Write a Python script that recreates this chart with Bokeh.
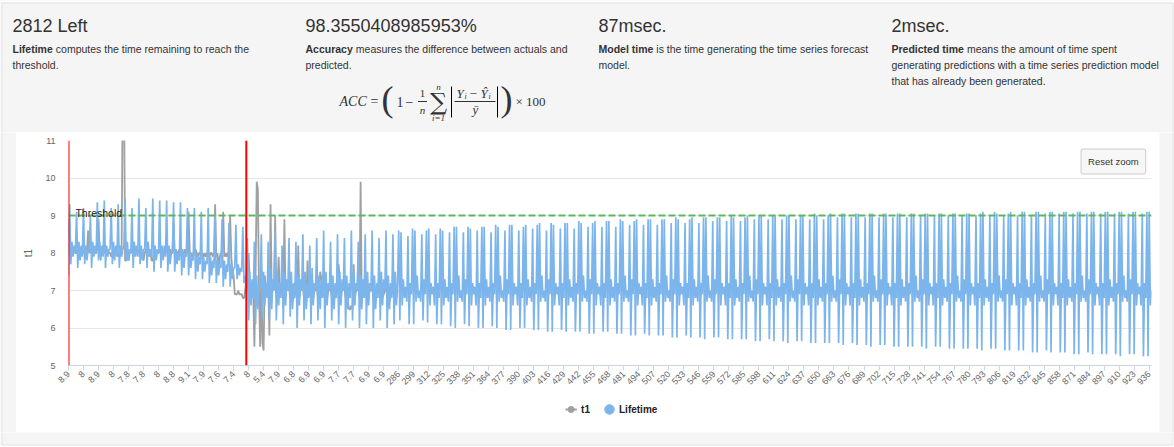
import math
from bokeh.plotting import figure
from bokeh.models import Range1d, Label, Span, FixedTicker
from bokeh.layouts import column, row
from bokeh.embed import file_html
from bokeh.resources import INLINE

# ---------------- data ----------------
headings = ["2812 Left", "98.3550408985953%", "87msec.", "2msec."]
bold_terms = ["Lifetime", "Accuracy", "Model time", "Predicted time"]
first_lines = ["computes the time remaining to reach the",
               "measures the difference between actuals and",
               "is the time generating the time series forecast",
               "means the amount of time spent"]
more_lines = [["threshold."], ["predicted."], ["model."],
              ["generating predictions with a time series prediction model",
               "that has already been generated."]]

# t1 actual values (categories 0..285)
t1_actual = [
    8.9, 8.0, 8.1, 8.0, 8.0, 8.1, 8.0, 8.0, 8.2, 8.0, 8.1, 8.0, 8.0,
    8.0, 8.1, 8.0, 8.0, 8.6, 8.0, 8.1, 8.0, 8.0, 8.1, 8.0, 8.0, 8.1,
    8.9, 8.0, 8.1, 8.0, 8.0, 8.1, 8.0, 8.0, 8.1, 8.0, 8.0, 7.9, 8.0,
    8.0, 8.1, 8.0, 8.0, 7.9, 8.0, 8.1, 8.0, 12.6, 12.9, 7.8, 7.8, 7.9,
    7.8, 8.0, 8.1, 8.0, 8.0, 8.1, 8.0, 8.0, 8.1, 8.0, 7.9, 8.0, 8.0,
    7.8, 8.0, 8.1, 8.0, 8.0, 8.1, 8.0, 7.8, 7.8, 8.0, 8.1, 8.0, 8.0,
    8.0, 8.1, 8.0, 8.0, 8.1, 8.0, 8.0, 8.1, 8.0, 8.0, 8.1, 8.0, 8.0,
    8.8, 8.0, 8.1, 8.0, 8.0, 8.1, 8.0, 7.9, 8.0, 8.0, 8.1, 8.0, 8.0,
    9.1, 8.0, 8.0, 7.9, 8.0, 8.0, 8.1, 8.0, 7.9, 8.0, 8.0, 7.9, 8.0,
    7.9, 8.0, 7.9, 8.0, 8.0, 7.9, 8.0, 8.0, 7.9, 8.0, 9.3, 7.9, 8.0,
    7.6, 7.9, 8.0, 7.9, 9.1, 7.9, 8.0, 7.9, 8.0, 8.0, 9.0, 7.9, 7.5,
    7.4, 6.9, 6.9, 6.9, 7.0, 6.9, 6.9, 6.9, 6.8, 6.8, 7.0, 7.3, 7.1,
    8.0, 7.2, 6.8, 7.1, 6.9, 5.5, 7.3, 9.9, 9.7, 7.0, 5.5, 7.6, 5.6,
    5.4, 7.4, 7.0, 6.9, 7.2, 5.8, 9.3, 7.0, 7.1, 7.0, 9.0, 6.8, 7.1,
    7.9, 7.0, 6.9, 7.1, 6.8, 8.9, 6.8, 7.1, 7.0, 7.1, 6.8, 7.2, 6.7,
    6.8, 6.9, 7.1, 6.8, 8.2, 6.8, 7.1, 7.0, 7.1, 6.8, 7.2, 6.7, 7.8,
    6.9, 7.1, 6.8, 7.3, 6.8, 7.0, 7.0, 7.1, 6.8, 7.1, 7.5, 7.3, 6.9,
    6.9, 6.8, 7.2, 6.8, 7.0, 7.0, 7.1, 6.8, 7.1, 6.7, 7.0, 6.9, 7.1,
    7.7, 7.2, 6.8, 7.1, 7.0, 7.1, 6.8, 7.1, 6.7, 6.5, 6.5, 6.6, 6.5,
    7.7, 6.8, 7.0, 7.0, 7.1, 6.8, 9.9, 6.7, 7.1, 6.9, 7.1, 6.8, 7.2,
    6.9, 7.0, 7.0, 7.1, 6.8, 7.1, 6.7, 7.0, 6.9, 7.1, 6.8, 7.2, 6.8,
    6.9, 7.0, 7.1, 6.8, 7.1, 6.7, 7.0, 6.9, 7.1, 6.8, 7.2, 6.8, 7.0,
]

# Lifetime fitted values (categories 0..285)
lifetime_fit = [
    7.4, 9.3, 7.7, 8.3, 7.9, 8.2,   8.0, 9.1, 7.6, 8.3, 7.8, 8.2,
    7.9, 9.2, 7.7, 8.2, 7.8, 8.1,   8.1, 9.0, 7.6, 8.3, 7.9, 8.2,
    8.0, 9.35, 7.8, 8.3, 7.8, 8.2,  7.9, 9.4, 7.6, 8.2, 7.9, 8.1,
    8.1, 9.2, 7.7, 8.3, 7.8, 8.2,   7.9, 9.3, 7.6, 8.2, 7.9, 8.1,
    8.2, 9.45, 7.8, 8.3, 7.8, 8.1,  8.0, 9.2, 7.6, 8.3, 7.9, 8.2,
    7.9, 9.45, 7.7, 8.2, 7.8, 8.1,  8.1, 9.2, 7.6, 8.3, 7.9, 8.1,
    7.9, 9.45, 7.5, 8.2, 7.8, 8.1,  8.0, 9.4, 7.6, 8.2, 7.8, 8.2,
    7.9, 9.4, 7.5, 8.2, 7.7, 8.0,   8.0, 9.35, 7.5, 8.1, 7.7, 8.0,
    7.8, 9.35, 7.4, 8.1, 7.6, 8.0,  7.9, 9.2, 7.4, 8.0, 7.6, 7.9,
    7.8, 9.2, 7.3, 8.0, 7.5, 7.9,   7.7, 9.1, 7.3, 7.9, 7.5, 7.8,
    7.7, 9.2, 7.2, 7.9, 7.4, 7.8,   7.6, 9.0, 7.2, 7.8, 7.4, 7.7,
    7.6, 8.9, 7.1, 7.8, 7.3, 7.7,   7.5, 8.8, 7.1, 7.7, 7.3, 7.6,
    7.6, 8.75, 7.3, 7.7, 7.4, 7.6,  7.5, 8.7, 7.2, 7.4,
    7.0, 8.4, 6.2, 7.5, 6.6, 7.3,   6.8, 8.3, 6.1, 7.4, 6.5, 7.2,
    7.1, 8.5, 6.3, 7.5, 6.6, 7.2,   6.8, 8.3, 6.2, 7.6, 6.5, 7.3,
    7.0, 8.6, 6.2, 7.4, 6.6, 7.2,   6.8, 8.2, 6.1, 7.5, 6.6, 7.3,
    7.0, 8.4, 6.3, 7.5, 6.5, 7.2,   6.8, 8.3, 6.0, 7.4, 6.6, 7.3,
    7.0, 8.5, 6.2, 7.5, 6.5, 7.2,   6.8, 8.2, 6.1, 7.6, 6.6, 7.2,
    7.0, 8.4, 6.2, 7.4, 6.5, 7.3,   6.8, 8.6, 6.0, 7.5, 6.6, 7.2,
    7.0, 8.3, 6.2, 7.4, 6.5, 7.2,   6.8, 8.5, 6.1, 7.5, 6.6, 7.3,
    7.0, 8.4, 6.0, 7.4, 6.5, 7.2,   6.8, 8.6, 6.2, 7.5, 6.6, 7.2,
    7.0, 8.3, 6.0, 7.4, 6.5, 7.3,   6.8, 8.5, 6.1, 7.5, 6.6, 7.2,
    7.0, 8.6, 6.0, 7.4, 6.5, 7.2,   6.8, 8.4, 6.2, 7.5, 6.6, 7.3,
    7.0, 8.6, 6.0, 7.4, 6.5, 7.2,   6.8, 8.5, 6.1, 7.5, 6.6, 7.2,
]

# Lifetime forecast values (categories 286..938)
lifetime_forecast = [
    8.6, 6.2, 8.55, 6.6, 7.3, 6.8, 7.1, 6.7, 8.45, 6.1, 7.2, 6.9,
    8.65, 6.1, 8.6, 6.7, 7.4, 6.8, 7.0, 6.7, 8.5, 6.2, 7.3, 6.9,
    8.6, 6.15, 8.65, 6.6, 7.2, 6.9, 7.1, 6.6, 8.5, 6.1, 7.2, 6.8,
    8.65, 6.1, 8.6, 6.6, 7.3, 6.8, 7.1, 6.7, 8.55, 6.05, 7.2, 6.9,
    8.7, 6.0, 8.7, 6.7, 7.4, 6.8, 7.0, 6.7, 8.55, 6.1, 7.3, 6.9,
    8.7, 6.05, 8.65, 6.6, 7.2, 6.9, 7.1, 6.6, 8.6, 6.0, 7.2, 6.8,
    8.7, 6.0, 8.7, 6.6, 7.3, 6.8, 7.1, 6.7, 8.55, 6.05, 7.2, 6.9,
    8.75, 6.0, 8.7, 6.7, 7.4, 6.8, 7.0, 6.7, 8.6, 5.95, 7.3, 6.9,
    8.75, 5.95, 8.75, 6.6, 7.2, 6.9, 7.1, 6.6, 8.6, 6.0, 7.2, 6.8,
    8.7, 6.0, 8.75, 6.6, 7.3, 6.8, 7.1, 6.7, 8.65, 5.95, 7.2, 6.9,
    8.75, 5.95, 8.8, 6.7, 7.4, 6.8, 7.0, 6.7, 8.6, 5.9, 7.3, 6.9,
    8.8, 5.9, 8.75, 6.6, 7.2, 6.9, 7.1, 6.6, 8.65, 5.95, 7.2, 6.8,
    8.8, 5.9, 8.8, 6.6, 7.3, 6.8, 7.1, 6.7, 8.65, 5.9, 7.2, 6.9,
    8.85, 5.9, 8.8, 6.7, 7.4, 6.8, 7.0, 6.7, 8.7, 5.85, 7.3, 6.9,
    8.8, 5.85, 8.85, 6.6, 7.2, 6.9, 7.1, 6.6, 8.7, 5.9, 7.2, 6.8,
    8.85, 5.9, 8.85, 6.6, 7.3, 6.8, 7.1, 6.7, 8.7, 5.85, 7.2, 6.9,
    8.9, 5.85, 8.85, 6.7, 7.4, 6.8, 7.0, 6.7, 8.75, 5.8, 7.3, 6.9,
    8.85, 5.8, 8.9, 6.6, 7.2, 6.9, 7.1, 6.6, 8.75, 5.85, 7.2, 6.8,
    8.9, 5.8, 8.9, 6.6, 7.3, 6.8, 7.1, 6.7, 8.75, 5.8, 7.2, 6.9,
    8.9, 5.8, 8.9, 6.7, 7.4, 6.8, 7.0, 6.7, 8.8, 5.75, 7.3, 6.9,
    8.95, 5.75, 8.9, 6.6, 7.2, 6.9, 7.1, 6.6, 8.8, 5.8, 7.2, 6.8,
    8.9, 5.75, 8.95, 6.6, 7.3, 6.8, 7.1, 6.7, 8.8, 5.75, 7.2, 6.9,
    8.95, 5.7, 8.95, 6.7, 7.4, 6.8, 7.0, 6.7, 8.85, 5.75, 7.3, 6.9,
    8.95, 5.75, 8.95, 6.6, 7.2, 6.9, 7.1, 6.6, 8.85, 5.7, 7.2, 6.8,
    9.0, 5.7, 8.95, 6.6, 7.3, 6.8, 7.1, 6.7, 8.85, 5.7, 7.2, 6.9,
    8.95, 5.7, 9.0, 6.7, 7.4, 6.8, 7.0, 6.7, 8.9, 5.65, 7.3, 6.9,
    9.0, 5.65, 9.0, 6.6, 7.2, 6.9, 7.1, 6.6, 8.9, 5.7, 7.2, 6.8,
    9.0, 5.65, 9.0, 6.6, 7.3, 6.8, 7.1, 6.7, 8.9, 5.65, 7.2, 6.9,
    9.0, 5.6, 9.0, 6.7, 7.4, 6.8, 7.0, 6.7, 8.9, 5.65, 7.3, 6.9,
    9.0, 5.65, 9.0, 6.6, 7.2, 6.9, 7.1, 6.6, 8.9, 5.6, 7.2, 6.8,
    9.05, 5.6, 9.0, 6.6, 7.3, 6.8, 7.1, 6.7, 8.9, 5.6, 7.2, 6.9,
    9.0, 5.6, 9.05, 6.7, 7.4, 6.8, 7.0, 6.7, 8.95, 5.6, 7.3, 6.9,
    9.05, 5.55, 9.05, 6.6, 7.2, 6.9, 7.1, 6.6, 8.95, 5.6, 7.2, 6.8,
    9.05, 5.55, 9.05, 6.6, 7.3, 6.8, 7.1, 6.7, 8.95, 5.55, 7.2, 6.9,
    9.05, 5.5, 9.05, 6.7, 7.4, 6.8, 7.0, 6.7, 8.95, 5.55, 7.3, 6.9,
    9.05, 5.55, 9.05, 6.6, 7.2, 6.9, 7.1, 6.6, 8.95, 5.5, 7.2, 6.8,
    9.05, 5.5, 9.05, 6.6, 7.3, 6.8, 7.1, 6.7, 8.95, 5.5, 7.2, 6.9,
    9.05, 5.5, 9.05, 6.7, 7.4, 6.8, 7.0, 6.7, 9.0, 5.5, 7.3, 6.9,
    9.05, 5.45, 9.05, 6.6, 7.2, 6.9, 7.1, 6.6, 9.0, 5.5, 7.2, 6.8,
    9.05, 5.5, 9.05, 6.6, 7.3, 6.8, 7.1, 6.7, 9.0, 5.45, 7.2, 6.9,
    9.05, 5.45, 9.05, 6.7, 7.4, 6.8, 7.0, 6.7, 9.0, 5.45, 7.3, 6.9,
    9.05, 5.45, 9.05, 6.6, 7.2, 6.9, 7.1, 6.6, 9.0, 5.45, 7.2, 6.8,
    9.05, 5.4, 9.1, 6.6, 7.3, 6.8, 7.1, 6.7, 9.0, 5.45, 7.2, 6.9,
    9.1, 5.45, 9.05, 6.7, 7.4, 6.8, 7.0, 6.7, 9.0, 5.4, 7.3, 6.9,
    9.05, 5.4, 9.1, 6.6, 7.2, 6.9, 7.1, 6.6, 9.0, 5.4, 7.2, 6.8,
    9.1, 5.4, 9.1, 6.6, 7.3, 6.8, 7.1, 6.7, 9.0, 5.35, 7.2, 6.9,
    9.1, 5.35, 9.1, 6.7, 7.4, 6.8, 7.0, 6.7, 9.05, 5.4, 7.3, 6.9,
    9.1, 5.35, 9.1, 6.6, 7.2, 6.9, 7.1, 6.6, 9.05, 5.35, 7.2, 6.8,
    9.1, 5.35, 9.1, 6.6, 7.3, 6.8, 7.1, 6.7, 9.05, 5.3, 7.2, 6.9,
    9.1, 5.3, 9.1, 6.7, 7.4, 6.8, 7.0, 6.7, 9.05, 5.35, 7.3, 6.9,
    9.1, 5.3, 9.1, 6.6, 7.2, 6.9, 7.1, 6.6, 9.05, 5.3, 7.2, 6.8,
    9.1, 5.3, 9.1, 6.6, 7.3, 6.8, 7.1, 6.7, 9.05, 5.3, 7.2, 6.9,
    9.1, 5.25, 9.1, 6.7, 7.4, 6.8, 7.0, 6.7, 9.05, 5.3, 7.3, 6.9,
    9.1, 5.3, 9.1, 6.6, 7.2, 6.9, 7.1, 6.6, 9.05, 5.25, 7.2, 6.8,
    9.1, 5.25, 9.1, 6.6, 7.0,
]

# category labels shown on the first ticks (actual t1 values); later ticks show the index
tick_value_labels = ["8.9", "8", "8.9", "8", "7.8", "7.8", "8", "8.8", "9.1", "7.9",
                     "7.6", "7.4", "8", "5.4", "7.9", "6.8", "6.9", "6.9", "7.7", "7.7",
                     "6.9", "6.9"]
tick_step = 13
y_ticks = [5, 6, 7, 8, 9, 10, 11]
threshold = 9
marker_categories = [0, 154]
series_names = ["t1", "Lifetime"]
series_colors = ["#a0a0a0", "#7cb5ec"]

# ---------------- derived ----------------
lifetime = lifetime_fit + lifetime_forecast
x_t1 = list(range(len(t1_actual)))
x_lt = list(range(len(lifetime)))
ticks = list(range(0, len(lifetime), tick_step))
overrides = {}
for i, t in enumerate(ticks):
    overrides[t] = tick_value_labels[i] if i < len(tick_value_labels) else str(t)

GRAY = "#f5f5f5"
EDGE = "#e3e3e3"
TEXT = "#333333"
SANS = "Liberation Sans"
SERIF = "Liberation Serif"
W = 1174

# ---------------- header ----------------
hdr = figure(width=W, height=132, x_range=Range1d(0, W), y_range=Range1d(132, 0),
             x_axis_type=None, y_axis_type=None, toolbar_location=None, output_backend="svg",
             min_border=0, background_fill_color=GRAY, border_fill_color=GRAY,
             outline_line_color=None)
hdr.xgrid.visible = False
hdr.ygrid.visible = False
hdr.quad(left=[0], right=[W], top=[0], bottom=[2], fill_color="white", line_color=None)
hdr.quad(left=[1173], right=[W], top=[0], bottom=[132], fill_color="white", line_color=None)
hdr.line([1, 1173], [2.5, 2.5], line_color=EDGE, line_width=1)
hdr.line([1.5, 1.5], [2.5, 132], line_color=EDGE, line_width=1)
hdr.line([1172.5, 1172.5], [2.5, 132], line_color=EDGE, line_width=1)


def ht(fig, x, y, text, size, style="normal", font=SANS, color=TEXT, align="left", baseline="middle"):
    fig.add_layout(Label(x=x, y=y, text=text, text_font=font, text_font_size=f"{size}px",
                         text_font_style=style, text_color=color, text_align=align,
                         text_baseline=baseline))


cols_x = [12, 305, 598, 891]
bold_w = [40.3, 47.3, 54.8, 72.4]
for cx, h, b, bw, fl, ml in zip(cols_x, headings, bold_terms, bold_w, first_lines, more_lines):
    ht(hdr, cx, 25, h, 18, color="#333333")
    ht(hdr, cx, 48, b, 10.5, style="bold")
    ht(hdr, cx + bw + 3, 48, fl, 10.5)
    for j, line in enumerate(ml):
        ht(hdr, cx, 64 + 16 * j, line, 10.5)

# formula  ACC = (1 - 1/n sum |(Y_i - Yhat_i)/ybar|) x 100
ht(hdr, 339, 101, "ACC", 14, style="italic", font=SERIF)
ht(hdr, 370, 101, "=", 14, font=SERIF)
ht(hdr, 381, 98, "(", 36, font=SERIF)
ht(hdr, 396, 101, "1", 14, font=SERIF)
ht(hdr, 405, 101, "\u2212", 14, font=SERIF)
ht(hdr, 422, 93, "1", 11, font=SERIF, align="center")
ht(hdr, 422, 109, "n", 11, style="italic", font=SERIF, align="center")
hdr.segment(x0=[417.5], y0=[101], x1=[426.5], y1=[101], line_color="#000", line_width=0.8)
ht(hdr, 438, 101, "\u2211", 24, font="DejaVu Serif", align="center")
ht(hdr, 438, 86, "n", 9, style="italic", font=SERIF, align="center")
ht(hdr, 438, 117, "i=1", 9, style="italic", font=SERIF, align="center")
hdr.segment(x0=[451, 497], y0=[86, 86], x1=[451, 497], y1=[117, 117], line_color="#000", line_width=1)
ht(hdr, 456, 93, "Y", 13, style="italic", font=SERIF)
ht(hdr, 464, 96, "i", 8, style="italic", font=SERIF)
ht(hdr, 469, 93, "\u2212", 13, font=SERIF)
ht(hdr, 480, 93, "\u0176", 13, style="italic", font=SERIF)
ht(hdr, 488, 96, "i", 8, style="italic", font=SERIF)
hdr.segment(x0=[454], y0=[101], x1=[495], y1=[101], line_color="#000", line_width=0.8)
ht(hdr, 475, 109, "\u0233", 13, style="italic", font=SERIF, align="center")
ht(hdr, 500, 98, ")", 36, font=SERIF)
ht(hdr, 515, 101, "\u00d7 100", 13, font=SERIF)

# ---------------- chart ----------------
p = figure(width=1143, height=270, x_range=Range1d(0, len(lifetime) - 1), y_range=Range1d(5, 11),
           toolbar_location=None, output_backend="svg",
           min_border_left=52, min_border_right=8, min_border_top=8, min_border_bottom=37,
           background_fill_color="white", border_fill_color="white", outline_line_color=None)

p.line(x_t1, t1_actual, line_color=series_colors[0], line_width=1.8)
p.line(x_lt, lifetime, line_color=series_colors[1], line_width=1.7)

p.add_layout(Span(location=threshold, dimension="width", line_color="#5cb85c",
                  line_width=2, line_dash="7 3"))
for c in marker_categories:
    p.add_layout(Span(location=c, dimension="height", line_color="#ff0000", line_width=2))

p.add_layout(Label(x=6, y=threshold, y_offset=3, text="Threshold", text_font=SANS,
                   text_font_size="10.5px", text_color="#222222", text_baseline="alphabetic"))

p.add_layout(Label(x=905, y=10.44, text="Reset zoom", text_font=SANS, text_font_size="9.5px",
                   text_color=TEXT, text_align="center", text_baseline="middle",
                   background_fill_color="#f7f7f7", border_line_color="#cccccc",
                   border_line_width=1, padding=7, border_radius=2))

p.xgrid.visible = False
p.ygrid.grid_line_color = "#e6e6e6"
p.ygrid.ticker = FixedTicker(ticks=y_ticks)

p.xaxis.ticker = FixedTicker(ticks=ticks)
p.xaxis.major_label_overrides = overrides
p.xaxis.major_label_orientation = math.pi / 4
p.xaxis.axis_line_color = "#ccd6eb"
p.xaxis.major_tick_line_color = "#ccd6eb"
p.xaxis.minor_tick_line_color = None
p.xaxis.major_tick_out = 5
p.xaxis.major_tick_in = 0
p.xaxis.major_label_text_font = SANS
p.xaxis.major_label_text_font_size = "9px"
p.xaxis.major_label_text_color = "#666666"
p.xaxis.major_label_standoff = 2

p.yaxis.ticker = FixedTicker(ticks=y_ticks)
p.yaxis.axis_line_color = None
p.yaxis.major_tick_line_color = None
p.yaxis.minor_tick_line_color = None
p.yaxis.major_tick_out = 0
p.yaxis.major_tick_in = 0
p.yaxis.major_label_standoff = 13
p.yaxis.major_label_text_font = SANS
p.yaxis.major_label_text_font_size = "9px"
p.yaxis.major_label_text_color = "#666666"
p.yaxis.axis_label = "t1"
p.yaxis.axis_label_text_font = SANS
p.yaxis.axis_label_text_font_size = "10px"
p.yaxis.axis_label_text_font_style = "normal"
p.yaxis.axis_label_text_color = "#666666"
p.yaxis.axis_label_standoff = 8

# ---------------- legend strip (page pixel coordinates) ----------------
lf = figure(width=1143, height=30, x_range=Range1d(16, 1159), y_range=Range1d(432, 402),
            x_axis_type=None, y_axis_type=None, toolbar_location=None, output_backend="svg",
            min_border=0, background_fill_color="white", border_fill_color="white",
            outline_line_color=None)
lf.xgrid.visible = False
lf.ygrid.visible = False
lf.segment(x0=[540.5], y0=[409], x1=[552.5], y1=[409], line_color=series_colors[0], line_width=2)
lf.scatter([546.5], [409], marker="circle", size=6, fill_color=series_colors[0],
           line_color=series_colors[0])
ht(lf, 557, 409, series_names[0], 10, style="bold", color="#222222")
lf.scatter([587], [409], marker="circle", size=9.5, fill_color=series_colors[1],
           line_color=series_colors[1])
ht(lf, 597, 409, series_names[1], 10, style="bold", color="#222222")


def spacer(w, h, vlines=(), hlines=(), white_x=None, white_y=None):
    s = figure(width=w, height=h, x_range=Range1d(0, w), y_range=Range1d(0, h),
               x_axis_type=None, y_axis_type=None, toolbar_location=None, output_backend="svg",
               min_border=0, background_fill_color=GRAY, border_fill_color=GRAY,
               outline_line_color=None)
    s.xgrid.visible = False
    s.ygrid.visible = False
    if white_x is not None:
        s.quad(left=[white_x], right=[w], top=[h], bottom=[0], fill_color="white", line_color=None)
    if white_y is not None:
        s.quad(left=[0], right=[w], top=[white_y], bottom=[0], fill_color="white", line_color=None)
    for vx in vlines:
        s.line([vx, vx], [0 if white_y is None else white_y, h], line_color=EDGE, line_width=1)
    for hy in hlines:
        s.line([1.5, 1172.5 if w > 100 else w], [hy, hy], line_color=EDGE, line_width=1)
    return s


left_sp = spacer(16, 300, vlines=(1.5,))
right_sp = spacer(15, 300, vlines=(13.5,), white_x=14)
bottom_sp = spacer(W, 15, vlines=(1.5, 1172.5), hlines=(2.5,), white_y=2)
bottom_sp.quad(left=[1173], right=[W], top=[15], bottom=[0], fill_color="white", line_color=None)

layout = column(hdr, row(left_sp, column(p, lf), right_sp), bottom_sp)

with open("out.html", "w") as f:
    f.write(file_html(layout, INLINE))
